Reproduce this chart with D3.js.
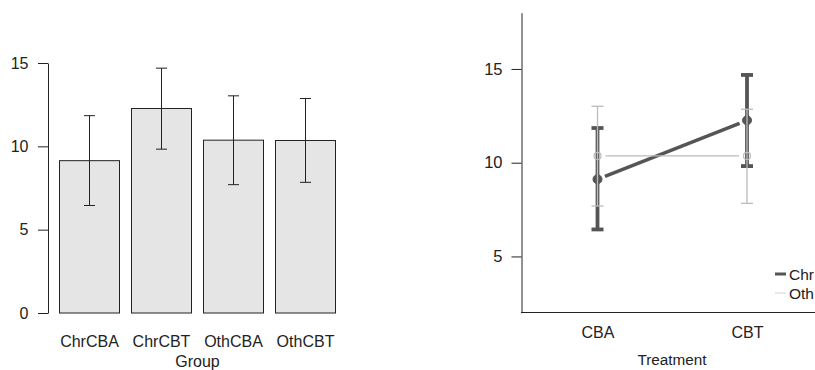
<!DOCTYPE html>
<html><head><meta charset="utf-8">
<script src="https://cdn.jsdelivr.net/npm/d3@7"></script>
<style>body{margin:0;background:#fff}svg{display:block;font-family:"Liberation Sans",Arial,sans-serif}</style>
</head><body>
<svg id="c" width="815" height="370"></svg>
<script>
// Left: bar chart by group
const groups = ["ChrCBA", "ChrCBT", "OthCBA", "OthCBT"];
const groupMeans = [9.14, 12.27, 10.37, 10.35];
const groupLower = [6.45, 9.83, 7.70, 7.84];
const groupUpper = [11.84, 14.69, 13.03, 12.87];
const leftTicks = [0, 5, 10, 15];

// Right: interaction plot
const treatments = ["CBA", "CBT"];
const seriesNames = ["Chr", "Oth"];
const chrMeans = [9.12, 12.26];
const chrLower = [6.44, 9.82];
const chrUpper = [11.85, 14.68];
const othMeans = [10.36, 10.36];
const othLower = [7.69, 7.83];
const othUpper = [13.01, 12.85];
const rightTicks = [5, 10, 15];

const svg = d3.select("#c");
const ink = "#222";
const FF = "Liberation Sans, Arial, sans-serif";

// ---------- Left chart ----------
const ly = d3.scaleLinear().domain([0, 15]).range([313, 63]);
const lx = d3.scaleBand().domain(groups).range([53.5, 341.5]).paddingInner(1/6).paddingOuter(1/12);

const L = svg.append("g");
L.selectAll("rect.bar").data(groups).join("rect")
  .attr("x", d => lx(d)).attr("width", lx.bandwidth())
  .attr("y", (d,i) => ly(groupMeans[i])).attr("height", (d,i) => ly(0) - ly(groupMeans[i]))
  .attr("fill", "#e5e5e5").attr("stroke", ink).attr("stroke-width", 1);

const eb = L.append("g").attr("stroke", ink).attr("stroke-width", 1).attr("fill", "none");
groups.forEach((g, i) => {
  const cx = lx(g) + lx.bandwidth()/2;
  eb.append("line").attr("x1", cx).attr("x2", cx).attr("y1", ly(groupLower[i])).attr("y2", ly(groupUpper[i]));
  [groupLower[i], groupUpper[i]].forEach(v => {
    eb.append("line").attr("x1", cx - 5.5).attr("x2", cx + 5.5).attr("y1", ly(v)).attr("y2", ly(v));
  });
});

const lAxis = L.append("g").attr("transform", "translate(48,0)")
  .call(d3.axisLeft(ly).tickValues(leftTicks).tickSize(10).tickPadding(9.5).tickSizeOuter(0));
lAxis.select(".domain").attr("stroke", ink);
lAxis.selectAll(".tick line").attr("stroke", ink);
lAxis.selectAll("text").attr("font-size", 16).attr("fill", ink).attr("font-family", FF);

const lxAxis = L.append("g").attr("transform", "translate(0,313)")
  .call(d3.axisBottom(lx).tickSize(0).tickPadding(23));
lxAxis.select(".domain").remove();
lxAxis.selectAll("text").attr("font-size", 16).attr("fill", ink).attr("font-family", FF);

L.append("text").attr("x", 197.5).attr("y", 366.5).attr("text-anchor", "middle")
  .attr("font-size", 16).attr("fill", ink).text("Group");

// ---------- Right chart ----------
const ry = d3.scaleLinear().domain([2, 18]).range([312.7, 12.7]);
const rx = d3.scalePoint().domain(treatments).range([597.5, 747]);

const R = svg.append("g");

const rAxis = R.append("g").attr("transform", "translate(521.5,0)")
  .call(d3.axisLeft(ry).tickValues(rightTicks).tickSize(10).tickPadding(9).tickSizeOuter(0));
rAxis.select(".domain").attr("stroke", ink);
rAxis.selectAll(".tick line").attr("stroke", ink);
rAxis.selectAll("text").attr("font-size", 16.5).attr("fill", ink).attr("font-family", FF);

R.append("line").attr("x1", 521).attr("x2", 815).attr("y1", 312.5).attr("y2", 312.5).attr("stroke", ink);

const rxAxis = R.append("g").attr("transform", "translate(0,313)")
  .call(d3.axisBottom(rx).tickSize(0).tickPadding(14));
rxAxis.select(".domain").remove();
rxAxis.selectAll("text").attr("font-size", 16).attr("fill", ink).attr("font-family", FF);

R.append("text").attr("x", 672).attr("y", 365).attr("text-anchor", "middle")
  .attr("font-size", 15.3).attr("fill", ink).text("Treatment");

const series = [
  {name: "Chr", m: chrMeans, lo: chrLower, hi: chrUpper, color: "#555", lw: 3.5, ew: 3.8, cap: 6, r: 4.5, fill: "#555", pw: 1},
  {name: "Oth", m: othMeans, lo: othLower, hi: othUpper, color: "#bbb", lw: 1.3, ew: 1.3, cap: 6, r: 3.5, fill: "none", pw: 1.2}
];
const gap = 8;
series.forEach(s => {
  const g = R.append("g");
  const x0 = rx(treatments[0]), y0 = ry(s.m[0]), x1 = rx(treatments[1]), y1 = ry(s.m[1]);
  const len = Math.hypot(x1 - x0, y1 - y0), ux = (x1 - x0)/len, uy = (y1 - y0)/len;
  g.append("line").attr("x1", x0 + ux*gap).attr("y1", y0 + uy*gap).attr("x2", x1 - ux*gap).attr("y2", y1 - uy*gap)
    .attr("stroke", s.color).attr("stroke-width", s.lw);
  treatments.forEach((t, i) => {
    const cx = rx(t);
    g.append("line").attr("x1", cx).attr("x2", cx).attr("y1", ry(s.lo[i])).attr("y2", ry(s.hi[i]))
      .attr("stroke", s.color).attr("stroke-width", s.ew);
    [s.lo[i], s.hi[i]].forEach(v => g.append("line").attr("x1", cx - s.cap).attr("x2", cx + s.cap)
      .attr("y1", ry(v)).attr("y2", ry(v)).attr("stroke", s.color).attr("stroke-width", s.ew));
    g.append("circle").attr("cx", cx).attr("cy", ry(s.m[i])).attr("r", s.r)
      .attr("fill", s.fill).attr("stroke", s.color).attr("stroke-width", s.pw);
  });
});

// legend
const legColors = ["#555", "#ddd"], legW = [3, 1.3];
seriesNames.forEach((n, i) => {
  const y = 274 + i*19;
  R.append("line").attr("x1", 775).attr("x2", 786).attr("y1", y).attr("y2", y)
    .attr("stroke", legColors[i]).attr("stroke-width", legW[i]);
  R.append("text").attr("x", 789).attr("y", y + 5.5).attr("font-size", 15.5).attr("fill", ink).attr("font-family", FF).text(n);
});
</script>
</body></html>
